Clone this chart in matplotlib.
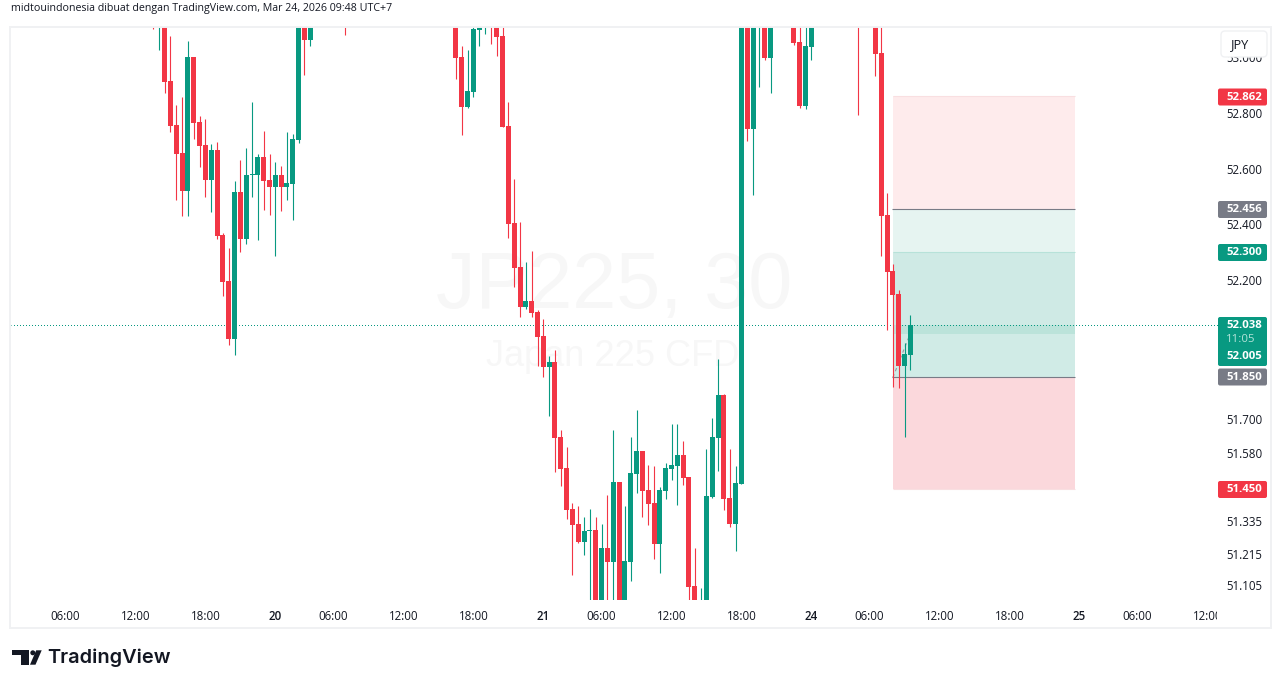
import matplotlib
matplotlib.use('Agg')
import matplotlib.pyplot as plt
import numpy as np
from matplotlib.patches import FancyBboxPatch, Rectangle, Polygon, Circle
from matplotlib.transforms import Affine2D, Bbox

# 30 minute candles, bar number on the chart (bars that sit fully off the pane are left out)
bars = list(range(0, 28)) + [33] + list(range(52, 107)) + [110, 111, 112, 113, 121] + list(range(124, 131))
opens = [53.25, 53.13, 53.20, 52.915, 52.757, 52.657, 52.520, 53.001, 52.768, 52.685, 52.559, 52.667, 52.362, 52.197,
         51.988, 52.516, 52.347, 52.577, 52.577, 52.642, 52.559, 52.534, 52.577, 52.534, 52.545, 52.703, 53.14, 53.063,
         53.20,
         53.20, 53.001, 52.822, 52.876, 53.098, 53.13, 53.20, 53.15, 53.077, 52.754, 52.405, 52.247, 52.103, 52.125,
         52.085, 51.999, 51.887, 51.905, 51.636, 51.524, 51.377, 51.323, 51.259, 51.298, 51.302, 51.04, 51.237, 51.187,
         51.474, 51.04, 51.187, 51.503, 51.586, 51.445, 51.399, 51.251, 51.442, 51.521, 51.532, 51.571, 51.492, 51.100,
         51.03, 51.04, 51.420, 51.632, 51.787, 51.417, 51.323, 51.467, 53.15, 52.743, 53.13, 53.15, 52.998,
         53.15, 53.055, 52.825, 53.037, 53.20,
         53.15, 53.016, 52.434, 52.232, 52.150, 51.891, 51.930]
highs = [53.28, 53.30, 53.22, 53.077, 52.829, 52.858, 53.059, 53.001, 52.789, 52.779, 52.689, 52.696, 52.369, 52.315,
         52.556, 52.631, 52.674, 52.840, 52.653, 52.736, 52.653, 52.624, 52.610, 52.732, 52.725, 53.16, 53.16, 53.16,
         53.22,
         53.22, 53.041, 53.027, 53.12, 53.15, 53.22, 53.22, 53.17, 53.12, 52.840, 52.563, 52.409, 52.265, 52.304,
         52.092, 52.060, 51.927, 51.948, 51.661, 51.600, 51.399, 51.388, 51.348, 51.377, 51.348, 51.323, 51.427, 51.661,
         51.474, 51.388, 51.636, 51.733, 51.586, 51.535, 51.532, 51.456, 51.542, 51.683, 51.683, 51.621, 51.492, 51.237,
         51.093, 51.593, 51.704, 51.916, 51.790, 51.593, 51.532, 53.20, 53.17, 53.17, 53.22, 53.17, 53.17,
         53.17, 53.15, 53.15, 53.17, 53.22,
         53.17, 53.13, 52.513, 52.257, 52.164, 51.974, 52.074]
lows = [53.102, 53.027, 52.872, 52.732, 52.488, 52.430, 52.430, 52.707, 52.606, 52.498, 52.445, 52.347, 52.143, 51.967,
        51.931, 52.301, 52.330, 52.498, 52.344, 52.452, 52.434, 52.286, 52.448, 52.488, 52.416, 52.692, 52.937, 53.041,
        53.082,
        52.922, 52.721, 52.818, 52.858, 53.041, 53.084, 53.048, 53.005, 52.750, 52.351, 52.175, 52.067, 52.096, 52.067,
        51.891, 51.851, 51.711, 51.510, 51.460, 51.341, 51.140, 51.255, 51.212, 51.02, 51.02, 51.02, 51.02, 51.02,
        51.02, 51.02, 51.118, 51.435, 51.348, 51.320, 51.198, 51.147, 51.413, 51.481, 51.392, 51.463, 51.02, 51.02,
        51.02, 51.02, 51.417, 51.514, 51.374, 51.312, 51.226, 51.467, 52.700, 52.506, 52.894, 52.991, 52.872,
        53.045, 52.818, 52.815, 52.991, 52.793,
        52.933, 52.286, 52.020, 51.816, 51.812, 51.636, 51.877]
closes = [53.13, 53.25, 52.913, 52.754, 52.653, 52.520, 53.001, 52.764, 52.682, 52.559, 52.667, 52.358, 52.193, 51.988,
          52.516, 52.347, 52.577, 52.581, 52.642, 52.556, 52.534, 52.577, 52.534, 52.549, 52.707, 53.14, 53.063, 53.14,
          53.13,
          52.998, 52.822, 52.879, 53.102, 53.13, 53.20, 53.13, 53.073, 52.750, 52.401, 52.243, 52.103, 52.125, 52.082,
          51.995, 51.887, 51.905, 51.632, 51.521, 51.374, 51.320, 51.259, 51.298, 51.302, 51.04, 51.237, 51.187, 51.474,
          51.04, 51.190, 51.507, 51.586, 51.442, 51.395, 51.251, 51.445, 51.524, 51.535, 51.571, 51.489, 51.097, 51.04,
          51.04, 51.424, 51.636, 51.787, 51.413, 51.323, 51.471, 53.15, 52.743, 53.15, 53.20, 52.998, 53.15,
          53.052, 52.825, 53.041, 53.15, 53.13,
          53.012, 52.430, 52.229, 52.146, 51.891, 51.934, 52.038]

time_bars = [-15, -3, 9, 21, 31, 43, 55, 67, 77, 89, 101, 113, 123, 135, 147, 159, 169, 181]
time_labels = ['06:00', '12:00', '18:00', '20', '06:00', '12:00', '18:00', '21', '06:00', '12:00', '18:00', '24',
               '06:00', '12:00', '18:00', '25', '06:00', '12:00']
price_ticks = [53.0, 52.8, 52.6, 52.4, 52.2, 51.7, 51.58, 51.335, 51.215, 51.105]

# position tool on the right
zone_bars = [127, 158.3]
zone_levels = [52.862, 52.456, 52.300, 52.038, 52.005, 51.850, 51.450]
zone_colors = ['#feebec', '#e6f4f1', '#cfeae5', '#bbe3da', '#d0ebe6', '#fbd8dc']
last_price = 52.038
path_bars = [127, 130.4]
path_prices = [51.85, 52.03]

GREEN = '#089981'
RED = '#F23645'
TEXT = '#131722'
FONT = 'Open Sans'

W, H = 1281, 688
fig = plt.figure(figsize=(W / 100, H / 100), dpi=100, facecolor='white')
ax = fig.add_axes([11 / W, 1 - 600 / H, (1218 - 11) / W, (600 - 27) / H])
ax.set_xlim(-24.37, 182.8)
ax.set_ylim(51.0502, 53.1090)
for s in ax.spines.values():
    s.set_visible(False)

# screen pixels, y going down
px = Affine2D().scale(1 / W, -1 / H).translate(0, 1) + fig.transFigure

# watermark
ax.text(614, 288, 'JP225, 30', transform=px, ha='center', va='center', fontsize=57, color='#f7f7f7',
        family='Liberation Sans', zorder=0)
ax.text(613, 356, 'Japan 225 CFD', transform=px, ha='center', va='center', fontsize=26, color='#f7f7f7',
        family='Liberation Sans', zorder=0)

# position zones
for i, c in enumerate(zone_colors):
    ax.add_patch(Rectangle((zone_bars[0], zone_levels[i + 1]), zone_bars[1] - zone_bars[0],
                           zone_levels[i] - zone_levels[i + 1], facecolor=c, edgecolor='none', zorder=1))
ax.hlines([52.456, 51.85], zone_bars[0] - 0.2, zone_bars[1], color='#787b86', lw=0.8, zorder=2)
ax.hlines([52.30], zone_bars[0], zone_bars[1], color='#b7e2d9', lw=0.8, zorder=2)
ax.hlines([52.862, 51.45], zone_bars[0], zone_bars[1], color='#f9dfe1', lw=0.8, zorder=2)
ax.plot(path_bars, path_prices, color='#9598a1', lw=0.8, ls=(0, (3, 3)), zorder=2)

ax.axhline(last_price, color=GREEN, lw=0.72, ls=(0.5, (1, 2)), zorder=2, snap=True)

# candles
o = np.array(opens)
c = np.array(closes)
colors = [GREEN if c[i] >= o[i] else RED for i in range(len(o))]
ax.vlines(bars, lows, highs, colors=colors, lw=0.8, zorder=3)
ax.bar(bars, np.abs(c - o), bottom=np.minimum(o, c), width=0.86, color=colors, linewidth=0, zorder=4)

# axes text
ax.yaxis.tick_right()
ax.set_yticks(price_ticks)
ax.set_yticklabels(['%.3f' % p for p in price_ticks], fontsize=8.3, color=TEXT, family=FONT)
ax.set_xticks(time_bars)
ax.set_xticklabels(time_labels, fontsize=8.3, color=TEXT, family=FONT)
ax.tick_params(axis='both', length=0)
ax.tick_params(axis='y', pad=5.8)
ax.tick_params(axis='x', pad=7)
for lab, t in zip(ax.get_xticklabels(), time_labels):
    if len(t) == 2:
        lab.set_fontweight('semibold')
    lab.set_clip_box(Bbox([[0, 0], [1217, H]]))
    lab.set_clip_on(True)

# frame
fig.add_artist(Rectangle((10, 27), 1261, 601, transform=px, fill=False, edgecolor='#f0f1f3', lw=1.4, zorder=5))


def tag(y0, y1, color):
    fig.add_artist(FancyBboxPatch((1218, y0), 49, y1 - y0, boxstyle='round,pad=0,rounding_size=2', transform=px,
                                  facecolor=color, edgecolor='none', zorder=6))


def tag_text(y, s, color='white', weight='bold'):
    fig.text(1226, y, s, transform=px, color=color, fontsize=8.2, family=FONT, ha='left', va='center', zorder=7,
             fontweight=weight)


for y, s, col in [(97, '52.862', RED), (209.5, '52.456', '#787b86'), (252.5, '52.300', GREEN),
                  (377, '51.850', '#787b86'), (489.5, '51.450', RED)]:
    tag(y - 8.5, y + 8.5, col)
    tag_text(y, s)
tag(317, 366, GREEN)
tag_text(325.5, '52.038')
tag_text(340, '11:05', '#b4e4da', 'normal')
tag_text(356.5, '52.005')

# currency box
fig.add_artist(FancyBboxPatch((1221, 31), 46, 26, boxstyle='round,pad=0,rounding_size=4', transform=px,
                              facecolor='white', edgecolor='#f0f1f3', lw=1, zorder=6))
fig.text(1240, 44.5, 'JPY', transform=px, color=TEXT, fontsize=9.2, family=FONT, ha='center', va='center', zorder=7)

# header and footer
fig.text(11, 8, 'midtouindonesia dibuat dengan TradingView.com, Mar 24, 2026 09:48 UTC+7', transform=px,
         fontsize=7.7, family=FONT, color=TEXT, ha='left', va='center')
fig.add_artist(Polygon([(12.3, 650.3), (29.3, 650.3), (29.3, 664.7), (20.7, 664.7), (20.7, 655.2), (12.3, 655.2)],
                       transform=px, facecolor=TEXT, edgecolor='none'))
fig.add_artist(Circle((32.8, 652.8), 2.5, transform=px, facecolor=TEXT, edgecolor='none'))
fig.add_artist(Polygon([(36.2, 650.3), (41.7, 650.3), (35.5, 664.7), (30, 664.7)], transform=px, facecolor=TEXT,
                       edgecolor='none'))
fig.text(47.5, 658, 'TradingView', transform=px, fontsize=14.4, family='Inter', fontweight='semibold', color=TEXT,
         ha='left', va='center')

fig.savefig('out.png', dpi=100)
